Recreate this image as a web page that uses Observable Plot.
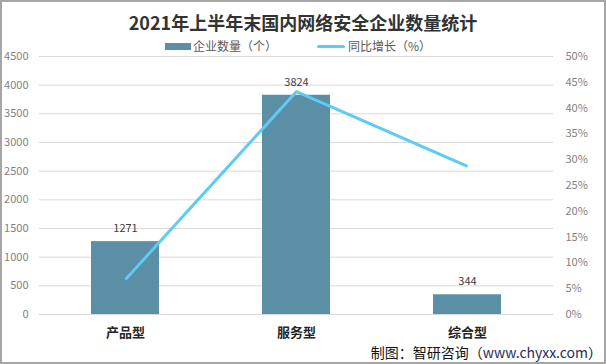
<!DOCTYPE html>
<html>
<head>
<meta charset="utf-8">
<script src="https://cdn.jsdelivr.net/npm/d3@7"></script>
<script src="https://cdn.jsdelivr.net/npm/@observablehq/plot@0.6"></script>
<style>
  html, body { margin: 0; padding: 0; background: #fff; }
  #wrap { position: relative; width: 606px; height: 364px; overflow: hidden; background: #fff;
          font-family: "Noto Sans CJK SC", "Noto Sans", sans-serif; }
  #chart { position: absolute; left: 0; top: 0; }
  .abs { position: absolute; white-space: nowrap; }
  #title { left: 0; width: 606px; top: 9px; text-align: center; font-size: 18px; font-weight: bold; color: #333; line-height: 26px; }
  .legtext { font-size: 12px; color: #595959; line-height: 16px; top: 38px; }
  #caption { right: 4px; top: 342px; font-size: 14px; color: #111; line-height: 20px; }
  #frame { position: absolute; left: 0; top: 0; width: 606px; height: 364px; box-sizing: border-box;
           border: 2px solid #a6a6a6; pointer-events: none; }
</style>
</head>
<body>
<div id="wrap">
  <div id="chart"></div>
  <div id="title" class="abs">2021年上半年末国内网络安全企业数量统计</div>
  <div class="abs" style="left:165px; top:43px; width:26px; height:7px; background:#5b8fa6;"></div>
  <div class="abs legtext" style="left:193px;">企业数量（个）</div>
  <div class="abs" style="left:317px; top:45px; width:28px; height:3px; background:#5ecbf3; border-radius:1.5px;"></div>
  <div class="abs legtext" style="left:348px;">同比增长（%）</div>
  <div id="caption" class="abs">制图：智研咨询（<span style="color:#1f2d5c">www.chyxx.com</span>）</div>
  <div id="frame"></div>
</div>
<script>
const categories = ["产品型", "服务型", "综合型"];
const counts = [1271, 3824, 344];
const growthPct = [6.8, 43.2, 28.7];
const leftTicks = [0, 500, 1000, 1500, 2000, 2500, 3000, 3500, 4000, 4500];
const rightTicks = [0, 5, 10, 15, 20, 25, 30, 35, 40, 45, 50];

const leftMax = 4500, rightMax = 50;
const k = leftMax / rightMax;

const data = categories.map((c, i) => ({ category: c, count: counts[i], growth: growthPct[i] }));

const chart = Plot.plot({
  width: 606,
  height: 364,
  marginTop: 56,
  marginBottom: 50,
  marginLeft: 39,
  marginRight: 53,
  style: { fontFamily: "Noto Sans CJK SC, Noto Sans, sans-serif", background: "transparent", overflow: "visible" },
  x: { domain: categories, paddingInner: 0.6, paddingOuter: 0.3, axis: null },
  y: { domain: [0, leftMax], axis: null },
  marks: [
    Plot.gridY(leftTicks, { stroke: "#d9d9d9", strokeOpacity: 1, strokeWidth: 1 }),
    Plot.barY(data, { x: "category", y: "count", fill: "#5b8fa6" }),
    Plot.text(data, { x: "category", y: "count", text: d => String(d.count), dy: -13, fill: "#404040", fontSize: 11 }),
    Plot.line(data, { x: "category", y: d => d.growth * k, stroke: "#5ecbf3", strokeWidth: 3, strokeLinejoin: "miter", strokeLinecap: "butt" }),
    Plot.axisY(leftTicks, { anchor: "left", label: null, tickSize: 0, tickPadding: 11, fontSize: 11, fill: "#7f7f7f", tickFormat: d => String(d) }),
    Plot.axisY(rightTicks.map(v => v * k), { anchor: "right", label: null, tickSize: 0, tickPadding: 12, fontSize: 11, fill: "#7f7f7f", tickFormat: d => Math.round(d / k) + "%" }),
    Plot.axisX(categories, { anchor: "bottom", label: null, tickSize: 0, tickPadding: 13, fontSize: 13, fontWeight: "bold", fill: "#262626" })
  ]
});
document.getElementById("chart").appendChild(chart);
</script>
</body>
</html>
